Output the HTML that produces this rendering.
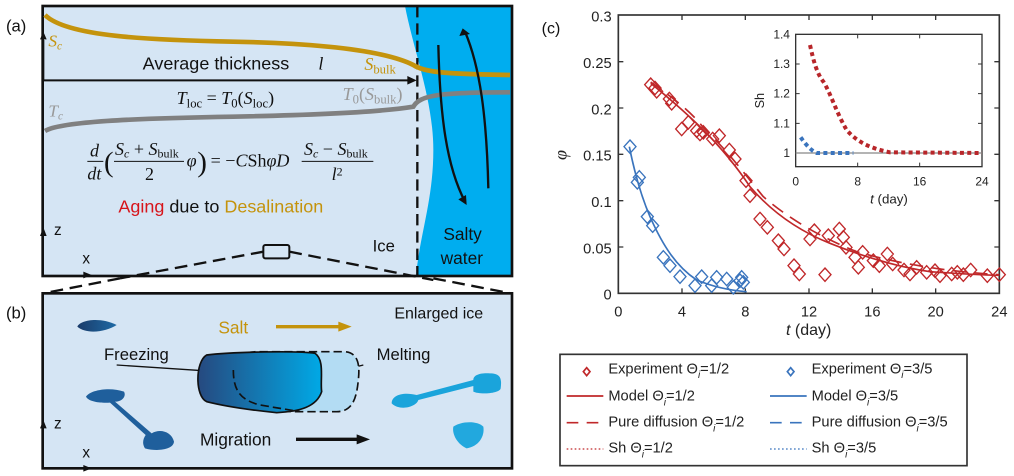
<!DOCTYPE html>
<html><head><meta charset="utf-8"><style>
body{margin:0;background:#fff;}
svg{display:block;font-family:"Liberation Sans",sans-serif;}
.serif{font-family:"Liberation Serif",serif;font-style:italic;}
</style></head><body>
<svg width="1014" height="476" viewBox="0 0 1014 476" xmlns="http://www.w3.org/2000/svg">
<defs>
<linearGradient id="pg" x1="0" x2="1"><stop offset="0" stop-color="#26497f"/><stop offset="1" stop-color="#00a9e6"/></linearGradient>
<linearGradient id="dg" x1="0" x2="1"><stop offset="0" stop-color="#1a3c6a"/><stop offset="1" stop-color="#1f6aa5"/></linearGradient>
</defs>

<!-- Panel (a) -->
<g transform="scale(0.3333333)">
<rect x="128" y="18" width="1408" height="810" fill="#d5e5f4"/>
<path d="M1215,18 C1240,150 1300,300 1300,450 C1300,600 1260,700 1248,828 L1536,828 L1536,18 Z" fill="#00adef"/>
<rect x="128" y="18" width="1408" height="810" fill="none" stroke="#111" stroke-width="8"/>
<line x1="1252" y1="18" x2="1252" y2="828" stroke="#111" stroke-width="7" stroke-dasharray="34,18"/>
<path d="M135,45 C200,110 450,120 700,125 C950,130 1150,150 1240,195 C1270,215 1320,222 1530,225" fill="none" stroke="#c4930c" stroke-width="14"/>
<path d="M135,393 C180,365 400,355 700,350 C950,345 1150,335 1240,320 C1260,285 1320,277 1530,277" fill="none" stroke="#808080" stroke-width="14"/>
<line x1="130" y1="241" x2="1225" y2="241" stroke="#111" stroke-width="6"/>
<path d="M1222,228 L1250,241 L1222,254z" fill="#111"/>
<line x1="130" y1="120" x2="130" y2="240" stroke="#111" stroke-width="6"/>
<path d="M120,118 L130,95 L140,118z" fill="#111"/>
<path d="M120,708 L130,682 L140,708z" fill="#111"/>
<path d="M1315,135 C1320,350 1340,500 1395,605" fill="none" stroke="#111" stroke-width="7"/>
<path d="M1375,598 L1400,615 L1398,585z" fill="#111"/>
<path d="M1465,565 C1460,350 1440,200 1395,95" fill="none" stroke="#111" stroke-width="7"/>
<path d="M1378,108 L1388,85 L1410,102z" fill="#111"/>
<text x="145" y="140" class="serif" font-size="52" fill="#c4930c">S<tspan font-size="34" dy="8">c</tspan></text>
<text x="145" y="350" class="serif" font-size="52" fill="#999">T<tspan font-size="34" dy="8">c</tspan></text>
<text x="428" y="208" font-size="54" fill="#111">Average thickness</text>
<text x="955" y="208" class="serif" font-size="54" fill="#111">l</text>
<text x="1093" y="210" class="serif" font-size="54" fill="#c4930c">S<tspan font-style="normal" font-size="38" dy="10">bulk</tspan></text>
<text x="530" y="312" class="serif" font-size="54" fill="#111">T<tspan font-style="normal" font-size="38" dy="10">loc</tspan><tspan font-style="normal" dy="-10"> = </tspan>T<tspan font-style="normal" font-size="38" dy="10">0</tspan><tspan font-style="normal" dy="-10">(</tspan>S<tspan font-style="normal" font-size="38" dy="10">loc</tspan><tspan font-style="normal" dy="-10">)</tspan></text>
<text x="1028" y="300" class="serif" font-size="54" fill="#999">T<tspan font-style="normal" font-size="38" dy="10">0</tspan><tspan font-style="normal" dy="-10">(</tspan>S<tspan font-style="normal" font-size="38" dy="10">bulk</tspan><tspan font-style="normal" dy="-10">)</tspan></text>
<g font-family="Liberation Serif,serif" font-size="54" fill="#111">
<text x="270" y="470" font-style="italic">d</text>
<line x1="262" y1="484" x2="310" y2="484" stroke="#111" stroke-width="3"/>
<text x="262" y="538" font-style="italic">dt</text>
<text x="312" y="515" font-size="86">(</text>
<text x="345" y="465" font-style="italic">S<tspan font-size="36" dy="8">c</tspan><tspan font-style="normal" dy="-8"> + </tspan>S<tspan font-style="normal" font-size="36" dy="8">bulk</tspan></text>
<line x1="342" y1="484" x2="552" y2="484" stroke="#111" stroke-width="3"/>
<text x="435" y="540">2</text>
<text x="560" y="500" font-style="italic">φ</text>
<text x="592" y="515" font-size="86">)</text>
<text x="632" y="500">= −<tspan font-style="italic">C</tspan>Sh<tspan font-style="italic">φD</tspan></text>
<text x="912" y="465" font-style="italic">S<tspan font-size="36" dy="8">c</tspan><tspan font-style="normal" dy="-8"> − </tspan>S<tspan font-style="normal" font-size="36" dy="8">bulk</tspan></text>
<line x1="905" y1="484" x2="1120" y2="484" stroke="#111" stroke-width="3"/>
<text x="995" y="540" font-style="italic">l<tspan font-style="normal" font-size="36" dy="-14">2</tspan></text>
</g>
<text x="355" y="638" font-size="54"><tspan fill="#d7141a">Aging</tspan><tspan fill="#111"> due to </tspan><tspan fill="#c4930c">Desalination</tspan></text>
<text x="162" y="705" font-size="46" fill="#111">z</text>
<text x="247" y="790" font-size="46" fill="#111">x</text>
<text x="1118" y="755" font-size="50" fill="#111">Ice</text>
<text x="1330" y="720" font-size="52" fill="#111">Salty</text>
<text x="1322" y="792" font-size="52" fill="#111">water</text>
<rect x="790" y="735" width="78" height="40" rx="6" fill="#d5e5f4" stroke="#111" stroke-width="6"/>
<path d="M790,755 L360,835 M868,755 L1300,840" stroke="#111" stroke-width="7" stroke-dasharray="38,20" fill="none"/>
<text x="18" y="95" font-size="50" fill="#111">(a)</text>
<path d="M250,815 L275,825 L250,835z" fill="#111"/>
</g>

<!-- Panel (b) -->
<g transform="translate(0,280) scale(0.3333333)">
<path d="M360,-5 L130,40 M1300,-5 L1532,40" stroke="#111" stroke-width="7" stroke-dasharray="38,20"/>
<rect x="128" y="40" width="1408" height="525" fill="#d5e5f4" stroke="#111" stroke-width="8"/>
<text x="18" y="115" font-size="50" fill="#111">(b)</text>
<text x="1183" y="115" font-size="48" fill="#111">Enlarged ice</text>
<text x="655" y="160" font-size="52" fill="#c4930c">Salt</text>
<line x1="828" y1="140" x2="1020" y2="140" stroke="#c4930c" stroke-width="10"/>
<path d="M1015,125 L1055,140 L1015,155z" fill="#c4930c"/>
<text x="312" y="240" font-size="50" fill="#111">Freezing</text>
<text x="1130" y="240" font-size="50" fill="#111">Melting</text>
<path d="M350,255 L655,275 M1010,275 L1090,255" stroke="#111" stroke-width="4"/>
<path d="M700,270 C700,230 720,215 780,215 L1030,215 C1075,215 1080,255 1075,300 C1070,350 1060,395 1010,395 L900,395 C780,395 700,370 700,270 Z" fill="#b3dcf3" stroke="#111" stroke-width="5" stroke-dasharray="25,12"/>
<path d="M620,225 C700,215 900,212 945,220 C975,240 960,300 965,335 C950,380 900,395 830,398 C750,390 680,380 620,365 C585,350 585,245 620,225 Z" fill="url(#pg)" stroke="#111" stroke-width="5"/>
<path d="M700,270 C700,330 720,360 780,375 L900,395" fill="none" stroke="#111" stroke-width="5" stroke-dasharray="25,12"/>
<path d="M232,140 C240,120 300,110 350,135 C320,155 260,165 232,140Z" fill="url(#dg)"/>
<path d="M258,350 C270,330 330,320 372,335 C380,350 365,365 345,365 L455,460 C480,445 515,455 522,485 C520,510 470,515 435,505 C425,490 430,475 437,465 L330,368 C300,370 265,365 258,350Z" fill="#1f5f9c"/>
<path d="M1175,370 C1175,345 1210,335 1250,345 L1420,300 C1420,285 1440,278 1470,280 C1505,280 1505,300 1502,325 C1500,340 1440,345 1420,335 L1420,318 L1255,360 C1250,380 1200,395 1175,370Z" fill="#1aa4db"/>
<path d="M1360,440 C1380,425 1430,420 1450,440 C1455,470 1435,500 1400,505 C1375,495 1355,465 1360,440Z" fill="#22a8de"/>
<text x="600" y="497" font-size="52" fill="#111">Migration</text>
<line x1="888" y1="478" x2="1078" y2="478" stroke="#111" stroke-width="10"/>
<path d="M1070,463 L1110,478 L1070,493z" fill="#111"/>
<path d="M120,445 L130,420 L140,445z" fill="#111"/>
<text x="162" y="445" font-size="46" fill="#111">z</text>
<text x="247" y="532" font-size="46" fill="#111">x</text>
<path d="M250,555 L275,565 L250,575z" fill="#111"/>
</g>

<!-- Panel (c) -->
<g transform="translate(530,0) scale(0.3333333)">
<text x="35" y="100" font-size="48" fill="#111">(c)</text>
<rect x="265" y="45" width="1143" height="835" fill="#fff" stroke="#333" stroke-width="5"/>
<g stroke="#333" stroke-width="4">
<path d="M265,185h15M265,324h15M265,463h15M265,602h15M265,741h15M1408,185h-15M1408,324h-15M1408,463h-15M1408,602h-15M1408,741h-15"/>
<path d="M456,880v-15M646,880v-15M837,880v-15M1027,880v-15M1217,880v-15M456,45v15M646,45v15M837,45v15M1027,45v15M1217,45v15"/>
</g>
<g font-size="44" fill="#222" text-anchor="end">
<text x="245" y="65">0.3</text><text x="245" y="204">0.25</text><text x="245" y="343">0.2</text><text x="245" y="482">0.15</text><text x="245" y="621">0.1</text><text x="245" y="760">0.05</text><text x="245" y="899">0</text>
</g>
<g font-size="44" fill="#222" text-anchor="middle">
<text x="265" y="950">0</text><text x="456" y="950">4</text><text x="646" y="950">8</text><text x="837" y="950">12</text><text x="1027" y="950">16</text><text x="1217" y="950">20</text><text x="1408" y="950">24</text>
</g>
<text x="110" y="465" font-size="54" font-family="Liberation Serif,serif" font-style="italic" fill="#222" transform="rotate(-90 110 465)" text-anchor="middle">φ</text>
<text x="836" y="1005" font-size="48" fill="#222" text-anchor="middle"><tspan font-style="italic">t</tspan> (day)</text>

<path d="M362,250 C400,280 470,340 520,390 C570,440 620,500 660,560 C720,630 800,690 900,730 C1000,770 1100,800 1200,815 C1300,822 1360,825 1408,826" fill="none" stroke="#c0282a" stroke-width="5"/>
<path d="M362,246 C410,280 480,330 520,383 C600,460 650,530 700,590 C780,660 880,715 980,755 C1100,790 1250,815 1408,824" fill="none" stroke="#c0282a" stroke-width="5" stroke-dasharray="40,25"/>
<path d="M298,440 C310,500 330,580 360,650 C400,740 440,800 500,840 C560,865 610,872 650,875" fill="none" stroke="#3a74bd" stroke-width="5"/>

<g fill="none" stroke="#c0282a" stroke-width="4">
<path d="M362,234l18,20l-18,20l-18,-20z M375,244l18,20l-18,20l-18,-20z M380,254l18,20l-18,20l-18,-20z M418,277l18,20l-18,20l-18,-20z M425,290l18,20l-18,20l-18,-20z M475,347l18,20l-18,20l-18,-20z M455,367l18,20l-18,20l-18,-20z M500,372l18,20l-18,20l-18,-20z M510,382l18,20l-18,20l-18,-20z M520,377l18,20l-18,20l-18,-20z M548,397l18,20l-18,20l-18,-20z M568,387l18,20l-18,20l-18,-20z M598,430l18,20l-18,20l-18,-20z M615,457l18,20l-18,20l-18,-20z M648,522l18,20l-18,20l-18,-20z M660,567l18,20l-18,20l-18,-20z M690,637l18,20l-18,20l-18,-20z M712,662l18,20l-18,20l-18,-20z M745,702l18,20l-18,20l-18,-20z M762,727l18,20l-18,20l-18,-20z M792,777l18,20l-18,20l-18,-20z M808,802l18,20l-18,20l-18,-20z M840,697l18,20l-18,20l-18,-20z M853,672l18,20l-18,20l-18,-20z M885,804l18,20l-18,20l-18,-20z M895,687l18,20l-18,20l-18,-20z M928,667l18,20l-18,20l-18,-20z M940,692l18,20l-18,20l-18,-20z M948,722l18,20l-18,20l-18,-20z M975,752l18,20l-18,20l-18,-20z M985,782l18,20l-18,20l-18,-20z M998,737l18,20l-18,20l-18,-20z M1030,762l18,20l-18,20l-18,-20z M1048,777l18,20l-18,20l-18,-20z M1072,742l18,20l-18,20l-18,-20z M1088,772l18,20l-18,20l-18,-20z M1122,790l18,20l-18,20l-18,-20z M1140,802l18,20l-18,20l-18,-20z M1160,782l18,20l-18,20l-18,-20z M1190,797l18,20l-18,20l-18,-20z M1215,792l18,20l-18,20l-18,-20z M1230,807l18,20l-18,20l-18,-20z M1265,802l18,20l-18,20l-18,-20z M1282,797l18,20l-18,20l-18,-20z M1300,804l18,20l-18,20l-18,-20z M1322,790l18,20l-18,20l-18,-20z M1372,807l18,20l-18,20l-18,-20z M1408,804l18,20l-18,20l-18,-20z"/>
</g>
<g fill="none" stroke="#3a74bd" stroke-width="4">
<path d="M300,420l18,20l-18,20l-18,-20z M322,527l18,20l-18,20l-18,-20z M328,512l18,20l-18,20l-18,-20z M352,630l18,20l-18,20l-18,-20z M368,657l18,20l-18,20l-18,-20z M400,752l18,20l-18,20l-18,-20z M420,777l18,20l-18,20l-18,-20z M450,810l18,20l-18,20l-18,-20z M495,837l18,20l-18,20l-18,-20z M515,810l18,20l-18,20l-18,-20z M545,837l18,20l-18,20l-18,-20z M560,812l18,20l-18,20l-18,-20z M590,817l18,20l-18,20l-18,-20z M610,842l18,20l-18,20l-18,-20z M630,822l18,20l-18,20l-18,-20z M640,827l18,20l-18,20l-18,-20z M635,812l18,20l-18,20l-18,-20z"/>
</g>

<!-- inset -->
<rect x="797" y="103" width="559" height="397" fill="#fff" stroke="#333" stroke-width="4"/>
<g stroke="#333" stroke-width="3">
<path d="M797,192h12M797,281h12M797,370h12M797,459h12M1356,192h-12M1356,281h-12M1356,370h-12M1356,459h-12"/>
<path d="M983,500v-12M1169,500v-12M983,103v12M1169,103v12"/>
</g>
<line x1="797" y1="459" x2="1356" y2="459" stroke="#888" stroke-width="4"/>
<g font-size="36" fill="#222" text-anchor="end">
<text x="780" y="115">1.4</text><text x="780" y="204">1.3</text><text x="780" y="293">1.2</text><text x="780" y="382">1.1</text><text x="780" y="471">1</text>
</g>
<g font-size="36" fill="#222" text-anchor="middle">
<text x="797" y="557">0</text><text x="983" y="557">8</text><text x="1169" y="557">16</text><text x="1356" y="557">24</text>
</g>
<text x="702" y="302" font-size="38" fill="#222" transform="rotate(-90 702 302)" text-anchor="middle">Sh</text>
<text x="1077" y="610" font-size="40" fill="#222" text-anchor="middle"><tspan font-style="italic">t</tspan> (day)</text>
<path d="M840,135 C850,180 860,220 880,245 C900,275 920,340 950,390 C980,425 1020,445 1080,457 L1356,459" fill="none" stroke="#b8262a" stroke-width="12" stroke-dasharray="12,10"/>
<path d="M812,412 C825,430 840,450 860,459 L970,459" fill="none" stroke="#3a74bd" stroke-width="12" stroke-dasharray="12,10"/>

<!-- legend -->
<g transform="translate(90,975)">
<rect x="0" y="88" width="1221" height="334" fill="#fff" stroke="#333" stroke-width="5"/>
<g font-size="44" fill="#222">
<text x="145" y="145">Experiment Θ<tspan font-size="30" dy="14" font-style="italic">i</tspan><tspan dy="-14">=1/2</tspan></text>
<text x="755" y="145">Experiment Θ<tspan font-size="30" dy="14" font-style="italic">i</tspan><tspan dy="-14">=3/5</tspan></text>
<text x="145" y="227">Model Θ<tspan font-size="30" dy="14" font-style="italic">i</tspan><tspan dy="-14">=1/2</tspan></text>
<text x="755" y="227">Model Θ<tspan font-size="30" dy="14" font-style="italic">i</tspan><tspan dy="-14">=3/5</tspan></text>
<text x="145" y="305">Pure diffusion Θ<tspan font-size="30" dy="14" font-style="italic">i</tspan><tspan dy="-14">=1/2</tspan></text>
<text x="755" y="305">Pure diffusion Θ<tspan font-size="30" dy="14" font-style="italic">i</tspan><tspan dy="-14">=3/5</tspan></text>
<text x="145" y="383">Sh Θ<tspan font-size="30" dy="14" font-style="italic">i</tspan><tspan dy="-14">=1/2</tspan></text>
<text x="755" y="383">Sh Θ<tspan font-size="30" dy="14" font-style="italic">i</tspan><tspan dy="-14">=3/5</tspan></text>
</g>
<path d="M80,128l10,12l-10,12l-10,-12z" fill="none" stroke="#c0282a" stroke-width="5"/>
<path d="M692,128l10,12l-10,12l-10,-12z" fill="none" stroke="#3a74bd" stroke-width="5"/>
<line x1="20" y1="213" x2="130" y2="213" stroke="#c0282a" stroke-width="5"/>
<line x1="630" y1="213" x2="740" y2="213" stroke="#3a74bd" stroke-width="5"/>
<line x1="20" y1="293" x2="130" y2="293" stroke="#c0282a" stroke-width="5" stroke-dasharray="35,25"/>
<line x1="630" y1="293" x2="740" y2="293" stroke="#3a74bd" stroke-width="5" stroke-dasharray="35,25"/>
<line x1="20" y1="372" x2="130" y2="372" stroke="#c0282a" stroke-width="4" stroke-dasharray="5,7"/>
<line x1="630" y1="372" x2="740" y2="372" stroke="#3a74bd" stroke-width="4" stroke-dasharray="5,7"/>
</g>
</g>
</svg>
</body></html>
